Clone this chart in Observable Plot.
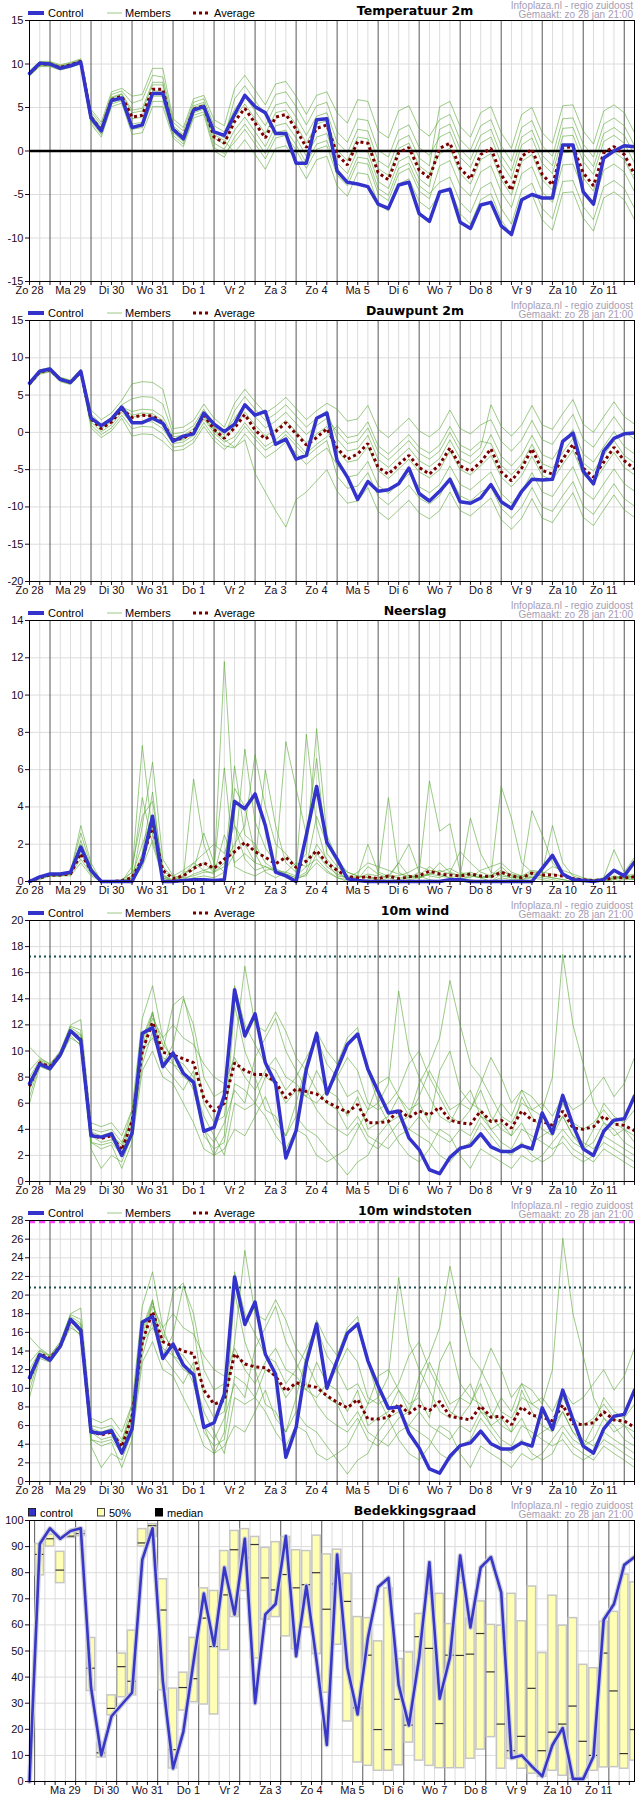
<!DOCTYPE html>
<html><head><meta charset="utf-8">
<script src="https://cdn.jsdelivr.net/npm/d3@7"></script>
<script src="https://cdn.jsdelivr.net/npm/@observablehq/plot@0.6"></script>
<style>
body{margin:0;background:#fff;font-family:"Liberation Sans",Arial,sans-serif;}
.panel{position:relative;width:635px;height:300px;overflow:hidden;}
.panel svg{display:block;}
.hdr{position:absolute;left:0;top:0;width:635px;height:20px;pointer-events:none;}
.lg{position:absolute;top:7px;font-size:11px;line-height:12px;color:#000;white-space:nowrap;}
.sw{position:absolute;top:7px;}
.ttl{position:absolute;top:3px;left:415px;transform:translateX(-50%);font:bold 12.5px "DejaVu Sans",sans-serif;color:#000;white-space:nowrap;}
.src{position:absolute;top:1px;right:2px;text-align:right;font-size:10px;line-height:9px;color:#a59db3;white-space:nowrap;}
</style></head><body><div id="chart"></div>
<script>
// ---------- shared axis data (hours since Sun 28 Jan 00:00) ----------
const dayNames = ["Zo 28","Ma 29","Di 30","Wo 31","Do 1","Vr 2","Za 3","Zo 4","Ma 5","Di 6","Wo 7","Do 8","Vr 9","Za 10","Zo 11","Ma 12"];
const sourceLines = ["Infoplaza.nl - regio zuidoost","Gemaakt: zo 28 jan 21:00"];

// ---------- Temperatuur 2m ----------
const tempControl = [8.9,10.1,10.0,9.5,9.8,10.2,3.8,2.3,5.8,6.1,2.7,3.0,6.6,6.6,2.5,1.4,4.7,5.1,2.2,1.8,4.2,6.4,5.1,4.4,2.0,2.0,-1.4,-1.4,3.6,3.7,-2.3,-3.6,-3.8,-4.1,-6.1,-6.6,-3.9,-3.6,-7.2,-8.1,-4.7,-4.4,-8.2,-8.9,-6.2,-5.9,-8.6,-9.6,-5.6,-5.0,-5.4,-5.4,0.7,0.7,-4.7,-6.1,-0.8,0.0,0.6,0.5];
const tempAverage = [8.9,10.0,10.0,9.6,9.9,10.3,3.9,2.4,5.9,6.3,3.9,4.1,7.1,7.1,2.5,1.5,4.8,5.2,1.6,0.9,3.4,4.9,3.2,1.5,3.9,4.2,2.5,0.4,2.6,3.0,-0.4,-1.6,1.1,0.9,-2.5,-3.3,-0.2,0.4,-2.2,-3.1,0.3,0.9,-2.0,-3.2,-0.4,0.3,-2.7,-4.5,-0.6,0.2,-2.7,-3.9,0.4,0.5,-2.5,-4.0,-0.2,0.5,-0.4,-2.7];
const tempMembers = [
[9.2,10.3,10.3,9.9,10.2,10.6,4.8,3.3,6.8,7.2,6.3,6.5,9.5,9.5,3.7,2.7,6.0,6.4,3.6,2.9,7.2,8.7,7.0,5.3,7.7,8.0,6.3,4.2,6.4,6.8,4.4,3.2,5.9,5.7,2.3,1.5,4.6,5.2,2.6,1.7,3.6,4.2,1.3,0.1,2.9,3.6,0.6,-1.2,2.7,3.5,0.6,-0.6,3.7,3.8,0.8,-0.7,3.1,3.8,2.9,0.6],
[9.0,10.1,10.2,9.7,10.0,10.4,4.5,3.0,6.5,6.9,5.5,5.9,8.7,8.5,3.3,2.3,5.6,6.0,2.9,2.2,4.8,6.3,4.6,2.9,5.3,5.6,3.9,1.8,4.0,4.4,1.0,-0.2,2.5,2.3,-1.1,-1.9,1.2,1.8,-0.8,-1.7,5.1,5.7,2.8,1.6,4.4,5.1,2.1,0.3,4.2,5.0,2.1,0.9,5.2,5.3,2.3,0.8,4.6,5.3,4.4,2.1],
[8.9,10.0,10.1,9.7,9.9,10.4,4.2,2.7,6.2,6.6,4.7,4.9,7.9,7.9,2.9,1.9,5.2,5.6,2.2,1.5,6.0,7.5,5.8,4.1,6.5,6.8,5.1,3.0,5.2,5.6,2.2,1.0,3.7,3.5,0.1,-0.7,2.4,3.0,0.4,-0.5,1.6,2.2,-0.7,-1.9,0.9,1.6,-1.4,-3.2,0.7,1.5,-1.4,-2.6,1.7,1.8,-1.2,-2.7,1.1,1.8,0.9,-1.4],
[8.8,9.9,9.9,9.5,9.8,10.2,3.8,2.3,5.8,6.2,3.7,3.9,6.9,6.9,2.4,1.4,4.7,5.1,1.5,0.8,3.9,5.4,3.7,2.0,4.4,4.7,3.0,0.9,3.1,3.5,0.1,-1.1,1.6,1.4,-2.0,-2.8,0.3,0.9,-1.7,-2.6,-0.3,0.3,-2.6,-3.8,-1.0,-0.3,-3.3,-5.1,-1.2,-0.4,-3.3,-4.5,-0.2,-0.1,-3.1,-4.6,-0.8,-0.1,-1.0,-3.3],
[8.8,9.9,9.8,9.5,9.8,10.2,3.6,2.1,5.6,6.0,3.1,3.3,6.3,6.3,2.1,1.1,4.4,4.8,0.9,0.2,2.4,3.9,2.2,0.5,2.9,3.2,1.5,-0.6,1.6,2.0,-1.4,-2.6,0.1,-0.1,-3.5,-4.3,-1.2,-0.6,-3.2,-4.1,2.5,3.1,0.2,-1.0,1.8,2.5,-0.5,-2.3,1.6,2.4,-0.5,-1.7,2.6,2.7,-0.3,-1.8,2.0,2.7,1.8,-0.5],
[8.7,9.8,9.8,9.4,9.7,10.1,3.4,1.9,5.4,5.8,2.5,2.7,5.7,5.7,1.8,0.8,4.1,4.5,0.4,-0.3,1.0,2.5,0.8,-0.9,1.5,1.8,0.1,-2.0,0.2,0.6,-2.8,-4.0,-1.3,-1.5,-4.9,-5.7,-2.6,-2.0,-4.6,-5.5,-1.7,-1.1,-4.0,-5.2,-2.4,-1.7,-4.7,-6.5,-2.6,-1.8,-4.7,-5.9,-1.6,-1.5,-4.5,-6.0,-2.2,-1.5,-2.4,-4.7],
[8.6,9.7,9.7,9.3,9.6,10.0,3.1,1.6,5.1,5.5,1.9,2.1,5.1,5.1,1.5,0.5,3.8,4.2,0.0,-0.7,1.6,3.1,1.4,-0.3,2.1,2.4,0.7,-1.4,0.8,1.2,-2.2,-3.4,-0.7,-0.9,-4.3,-5.1,-2.0,-1.4,-4.0,-4.9,-3.6,-3.0,-5.9,-7.1,-4.3,-3.6,-6.6,-8.4,-4.5,-3.7,-6.6,-7.8,-3.5,-3.4,-6.4,-7.9,-4.1,-3.4,-4.3,-6.6],
[9.1,10.2,10.2,9.8,10.1,10.5,4.1,2.6,6.1,6.5,4.4,4.6,7.6,7.6,2.7,1.7,5.0,5.4,1.9,1.2,-0.2,1.3,-0.4,-2.1,0.3,0.6,-1.1,-3.2,-1.0,-0.6,-4.0,-5.2,-2.5,-2.7,-6.1,-6.9,-3.8,-3.2,-5.8,-6.7,-4.9,-4.3,-7.2,-8.4,-5.6,-4.9,-7.9,-9.7,-5.8,-5.0,-7.9,-9.1,-4.8,-4.7,-7.7,-9.2,-5.4,-4.7,-5.6,-7.9]
];

// ---------- Dauwpunt 2m ----------
const dewControl = [6.6,8.2,8.5,7.1,6.7,8.2,1.9,0.9,1.8,3.4,1.3,1.3,1.9,1.2,-1.2,-0.5,-0.2,2.6,1.1,0.1,1.1,3.7,2.3,2.8,-1.6,-0.9,-3.6,-3.1,1.9,2.6,-3.8,-6.0,-9.0,-6.6,-7.9,-7.7,-6.9,-4.8,-8.2,-9.2,-7.9,-6.3,-9.3,-9.5,-8.8,-7.0,-9.3,-10.2,-7.9,-6.3,-6.4,-6.3,-1.2,-0.1,-5.2,-6.9,-2.5,-0.8,-0.2,-0.1];
const dewAverage = [6.5,8.1,8.4,7.1,6.7,8.1,1.8,0.5,1.4,3.1,2.0,2.3,2.2,1.3,-1.0,-0.8,0.1,2.3,0.4,-0.8,0.6,2.4,0.3,-0.9,0.1,1.3,-0.2,-1.7,-0.7,0.5,-2.1,-3.6,-2.9,-1.5,-4.7,-5.6,-4.3,-3.1,-4.7,-5.6,-4.3,-2.1,-4.5,-5.2,-4.0,-2.2,-5.3,-6.5,-4.8,-2.2,-5.1,-5.6,-3.6,-1.6,-4.8,-6.0,-4.0,-2.0,-3.8,-4.9];
const dewMembers = [
[6.8,8.4,8.7,7.4,7.0,8.4,3.0,1.7,2.6,4.3,6.5,6.8,6.7,5.8,0.5,0.7,1.6,3.8,1.9,0.7,3.9,5.8,4.1,2.6,3.5,4.7,3.2,1.7,2.9,3.9,3.1,1.5,1.8,3.6,0.4,-0.7,0.6,1.9,0.2,-0.6,0.5,3.0,0.5,-0.2,1.0,1.7,-1.2,-2.5,-1.0,1.6,-1.0,-1.6,0.5,2.4,-0.9,-2.0,0.1,2.1,0.1,-0.9],
[6.7,8.3,8.6,7.3,6.9,8.3,2.4,1.1,2.0,3.7,4.5,4.8,4.7,3.8,-0.2,0.0,0.9,3.1,1.2,0.0,1.9,3.8,2.1,0.6,1.5,2.7,1.2,-0.3,0.9,1.9,0.1,-1.5,-1.2,0.6,-2.6,-3.7,-2.4,-1.1,-2.8,-3.6,-2.5,0.0,-2.5,-3.2,-2.0,3.7,0.8,-0.5,1.0,3.6,1.0,0.4,2.5,4.4,1.1,0.0,2.1,4.1,2.1,1.1],
[6.6,8.2,8.5,7.2,6.8,8.2,2.1,0.8,1.7,3.4,2.8,3.1,3.0,2.1,-0.6,-0.4,0.5,2.7,0.8,-0.4,2.9,4.8,3.1,1.6,2.5,3.7,2.2,0.7,1.9,2.9,-0.9,-2.5,-2.2,-0.4,-3.6,-4.7,-3.4,-2.1,-3.8,-4.6,-3.5,-1.0,-3.5,-4.2,-3.0,-0.3,-3.2,-4.5,-3.0,-0.4,-3.0,-3.6,-1.5,0.4,-2.9,-4.0,-1.9,0.1,-1.9,-2.9],
[6.5,8.1,8.4,7.1,6.7,8.1,1.8,0.5,1.4,3.1,2.0,2.3,2.2,1.3,-1.0,-0.8,0.1,2.3,0.4,-0.8,0.8,2.7,1.0,-0.5,0.4,1.6,0.1,-1.4,-0.2,0.8,-2.4,-4.0,-3.7,-1.9,-5.1,-6.2,-4.9,-3.6,-5.3,-6.1,-5.0,-2.5,-5.0,-5.7,-4.5,-3.1,-6.0,-7.3,-5.8,-3.2,-5.8,-6.4,-4.3,-2.4,-5.7,-6.8,-4.7,-2.7,-4.7,-5.7],
[6.4,8.0,8.3,7.0,6.6,8.0,1.4,0.1,1.0,2.7,1.2,1.5,1.4,0.5,-1.5,-1.3,-0.4,1.8,-0.1,-1.3,-0.6,1.3,-0.4,-1.9,-1.0,0.2,-1.3,-2.8,-1.6,-0.6,0.9,-0.7,-0.4,1.4,-1.8,-2.9,-1.6,-0.3,-2.0,-2.8,-1.7,0.8,-1.7,-2.4,-1.2,-1.5,-4.4,-5.7,-4.2,-1.6,-4.2,-4.8,-2.7,-0.8,-4.1,-5.2,-3.1,-1.1,-3.1,-4.1],
[6.3,7.9,8.2,6.9,6.5,7.9,1.0,-0.3,0.6,2.3,0.5,0.8,0.7,-0.2,-2.0,-1.8,-0.9,1.3,-0.6,-1.8,-2.1,-0.2,-1.9,-3.4,-2.5,-1.3,-2.8,-4.3,-3.1,-2.1,-4.4,-6.0,-5.7,-3.9,-7.1,-8.2,-6.9,-5.6,-7.3,-8.1,-7.0,-4.5,-7.0,-7.7,-6.5,-5.3,-8.2,-9.5,-8.0,-5.4,-8.0,-8.6,-6.5,-4.6,-7.9,-9.0,-6.9,-4.9,-6.9,-7.9],
[6.2,7.8,8.1,6.8,6.4,7.8,0.6,-0.7,0.2,1.9,-0.5,-0.2,-0.3,-1.2,-2.5,-2.3,-1.4,0.8,-1.1,-2.3,-1.1,0.8,-0.9,-2.4,-1.5,-0.3,-1.8,-3.3,-2.1,-1.1,-5.9,-7.5,-7.2,-5.4,-8.6,-9.7,-8.4,-7.1,-8.8,-9.6,-8.5,-6.0,-8.5,-9.2,-8.0,-7.3,-10.2,-11.5,-10.0,-7.4,-10.0,-10.6,-8.5,-6.6,-9.9,-11.0,-8.9,-6.9,-8.9,-9.9],
[6.7,8.3,8.6,7.3,6.9,8.3,2.1,0.8,1.7,3.4,2.3,2.6,2.5,1.6,-1.2,-1.0,-0.1,2.1,0.2,-1.0,-2.0,-1.0,-5.5,-8.0,-10.5,-12.7,-9.0,-8.0,-6.5,-5.0,-7.9,-9.5,-9.2,-7.4,-10.6,-11.7,-10.4,-9.1,-10.8,-11.6,-10.5,-8.0,-10.5,-11.2,-10.0,-8.8,-11.7,-13.0,-11.5,-8.9,-11.5,-12.1,-10.0,-8.1,-11.4,-12.5,-10.4,-8.4,-10.4,-11.4]
];

// ---------- Neerslag ----------
const rainControl = [0,0.25,0.4,0.4,0.5,1.85,0.6,0,0,0,0,1.1,3.5,0,0,0.05,0.1,0.1,0.05,0.1,4.3,3.9,4.7,3.0,0.5,0.3,0,2.5,5.1,2.1,1.2,0.15,0.05,0,0,0,0,0,0,0,0,0.1,0.1,0,0,0,0,0,0,0,0.7,1.4,0.4,0.1,0.05,0,0.1,0.6,0.3,1.05];
const rainAverage = [0,0.2,0.35,0.35,0.4,1.5,0.6,0,0,0.05,0.2,1.2,3.0,0.6,0.15,0.3,0.7,1.0,0.7,1.2,1.6,2.1,1.6,1.3,0.95,1.3,0.75,1.1,1.65,1.0,0.6,0.25,0.2,0.25,0.15,0.3,0.15,0.25,0.3,0.55,0.4,0.35,0.3,0.4,0.3,0.25,0.5,0.3,0.2,0.45,0.35,0.35,0.3,0.15,0.1,0.05,0.1,0.2,0.2,0.25];
const rainMembers = [
[0,0.3,0.4,0.4,0.5,3.0,1.0,0,0,0,0.5,7.3,2.5,0.2,0,0.3,0.8,1.0,0.5,11.8,3.0,1.2,0.6,0.8,0.5,0.3,0.1,0.4,1.0,0.5,0.2,0,0,0.1,0,0.2,0,0.1,0.2,0.4,0.3,0.2,0.1,0.3,0.2,0,0.4,0.2,0.1,0.3,0.2,0.1,0,0,0,0,0,0.1,0.2,0.1],
[0,0.2,0.3,0.3,0.4,2.2,0.7,0,0,0,0,3.0,6.4,1.2,0.3,0.2,5.5,2.0,0.5,0.8,6.2,2.5,2.0,1.0,0.6,0.4,0.2,0.5,2.0,1.2,0.6,0.1,0.3,2.0,0.5,0.3,0.2,0.2,0.5,5.4,2.7,3.1,0.5,0.3,0.2,0.3,0.6,0.3,0.2,0.5,0.3,0.2,0.1,0,0,0,0.1,0.3,0.2,0.3],
[0,0.2,0.4,0.4,0.4,1.5,0.5,0,0,0,0.2,1.5,4.8,0.4,0,0.5,0.6,2.6,1.0,0.5,1.5,7.1,3.2,1.8,1.0,7.5,5.0,2.5,6.6,1.5,0.8,0.3,0.2,0.4,0.3,4.5,0.5,0.2,0.3,0.8,0.4,0.2,0.3,3.4,1.5,0.5,0.3,0.2,0.3,3.8,2.5,1.0,0.4,0.2,0,0,0.1,0.2,0.3,0.4],
[0,0.2,0.3,0.3,0.4,1.2,0.4,0,0,0,0.3,2.0,3.5,0.3,0.1,0.2,0.3,0.5,0.5,1.0,2.0,3.0,6.8,4.0,2.0,1.5,0.8,1.5,8.2,2.5,1.2,0.5,0.3,0.2,0.1,0.3,1.0,2.0,0.5,0.3,0.2,0.5,1.6,1.0,0.5,0.3,5.1,3.4,1.0,0.5,0.5,3.0,1.0,0.3,0.1,0.1,0.2,1.7,0.5,1.3],
[0,0.2,0.3,0.3,0.5,1.8,0.6,0,0,0.1,0.5,4.5,2.0,0.2,0,0.1,0.4,0.6,0.4,2.5,1.0,1.5,1.0,6.0,3.0,1.0,0.5,7.9,3.0,1.0,0.3,0.2,0.5,1.0,0.8,0.6,0.4,0.3,0.2,0.4,0.6,0.4,0.3,0.2,0.6,0.8,1.0,0.5,0.3,0.2,0.4,0.8,0.6,0.4,0.2,0.1,0,0.1,0.4,0.2],
[0,0.1,0.3,0.3,0.3,1.0,0.3,0,0,0,0,0.8,2.2,0.3,0,0,0.2,0.3,0.2,0.5,5.0,4.0,1.5,0.5,0.2,0.5,1.0,0.8,1.2,0.6,0.2,0.1,0.2,0.3,0.1,0,0.1,0.2,0.3,0.1,0,0.1,0.2,0.1,0,0,0.2,0.1,0.1,0.2,0.1,0,0,0,0,0,0,0,0.1,0.1],
[0,0.2,0.4,0.4,0.5,2.6,0.8,0,0,0,0.8,3.5,4.3,0.8,0.2,0.3,1.0,1.5,2.0,1.5,3.0,2.0,1.0,0.8,0.6,0.5,0.3,0.8,3.5,2.0,1.0,0.5,0.3,0.2,0.2,0.3,0.3,0.5,0.8,0.6,0.5,0.7,0.4,0.5,0.3,0.2,0.5,0.4,0.3,0.6,0.5,0.4,0.3,0.2,0.1,0.1,0.1,0.2,0.2,0.3],
[0,0.3,0.3,0.4,0.4,2.0,0.6,0,0,0,0.2,1.0,3.0,0.5,0.3,0.6,1.0,0.6,0.8,6.1,0.8,0.5,0.3,0.6,0.7,0.4,0.2,0.3,1.5,0.8,0.4,0.2,0.1,0.8,0.4,0.2,1.0,0.3,0.2,0.4,1.0,0.5,0.3,0.4,0.2,0.3,0.8,0.3,0.2,0.4,0.3,0.2,0.1,0,0,0,0,0.2,0.2,0.2]
];

// ---------- 10m wind ----------
const windControl = [7.5,9.0,8.65,9.7,11.55,10.8,3.5,3.4,3.65,2.0,3.7,11.35,11.8,8.8,9.85,8.3,7.6,3.85,4.15,6.6,14.7,11.15,12.85,9.1,7.5,1.8,3.9,8.6,11.35,6.7,8.6,10.5,11.3,8.6,6.9,5.25,5.4,3.35,2.45,0.9,0.6,1.85,2.55,2.75,3.65,2.65,2.3,2.3,2.75,2.5,5.25,3.7,6.6,4.3,2.5,2.0,3.85,4.7,4.8,6.55];
const windAverage = [7.3,9.1,8.8,9.7,11.5,10.9,3.6,3.3,3.5,2.4,4.6,10.0,12.2,9.9,9.7,9.4,9.1,6.4,5.4,6.0,9.1,8.5,8.2,8.2,7.6,6.4,7.1,6.9,6.7,6.1,5.7,5.3,5.9,4.5,4.5,4.6,5.5,4.9,5.4,5.1,5.7,4.7,4.5,4.4,5.4,4.6,4.7,4.1,5.4,4.7,4.6,4.3,5.4,4.1,4.0,4.2,5.0,4.4,4.3,3.9];
const windMembers = [
[6.0,8.8,8.5,9.5,11.0,10.5,3.0,2.8,3.0,2.0,4.0,9.5,13.0,9.0,10.5,14.0,12.0,8.0,6.5,7.0,15.0,12.0,10.5,9.0,8.5,7.0,8.0,9.5,11.0,9.0,8.0,6.5,7.0,5.5,6.0,7.5,14.6,10.0,8.0,6.5,5.0,4.5,6.0,5.5,7.0,5.0,4.0,3.5,4.5,3.0,3.5,4.0,5.0,3.5,3.0,2.5,3.5,3.0,2.5,2.0],
[10.3,9.5,9.0,10.0,12.0,12.4,4.5,4.2,4.5,3.5,5.5,12.5,15.0,11.0,9.0,8.5,7.0,4.0,3.0,4.5,7.0,6.0,9.5,11.0,12.5,10.0,8.5,7.0,5.5,4.5,4.0,3.5,4.5,3.0,2.5,3.5,4.5,5.0,7.5,9.0,11.0,15.4,12.0,9.0,8.0,6.5,5.0,4.5,6.0,5.5,5.0,4.0,6.0,4.5,4.0,4.5,5.5,4.5,4.0,3.5],
[7.5,9.2,8.7,9.6,11.5,10.8,2.5,1.0,2.0,1.5,3.5,9.0,11.5,10.0,13.5,14.2,11.0,6.0,4.5,5.0,10.0,16.5,12.0,11.5,13.0,11.5,9.5,8.5,7.0,6.0,5.5,4.0,5.0,3.5,3.0,2.5,3.5,4.0,5.0,4.0,3.5,3.0,4.0,3.5,5.0,4.5,6.0,5.0,7.0,6.5,5.5,8.0,17.4,12.0,9.0,6.0,4.5,4.0,3.0,2.5],
[7.0,9.0,8.8,9.7,11.5,11.0,3.8,3.5,3.8,2.5,5.0,10.0,11.0,9.5,9.0,8.0,7.5,5.0,3.5,2.0,6.0,5.5,6.0,8.0,7.5,6.0,7.0,6.5,8.5,7.0,6.5,5.0,6.5,4.0,4.5,5.0,6.5,5.5,6.0,4.5,8.5,10.0,7.0,6.0,5.5,4.0,4.5,3.5,6.5,5.0,4.0,3.5,5.0,3.5,2.5,3.0,4.5,3.5,4.0,3.0],
[8.0,9.3,8.9,9.8,11.8,11.3,3.5,3.0,3.2,2.2,4.5,11.0,13.0,9.0,8.0,7.0,8.5,4.0,2.0,3.5,13.5,10.0,8.0,5.5,5.0,3.5,6.0,9.0,11.5,10.0,9.0,11.0,11.8,8.5,6.0,4.5,5.0,4.0,3.5,3.0,2.0,1.5,2.5,3.0,4.5,3.5,2.5,2.0,3.0,2.0,1.5,2.0,3.5,2.5,2.0,1.5,2.5,2.0,1.5,1.0],
[6.5,9.0,8.6,9.5,11.2,10.4,3.0,2.5,2.8,1.0,3.0,8.5,10.0,8.0,7.5,6.0,4.5,2.5,2.0,2.5,4.0,3.5,5.0,6.5,4.5,3.5,5.0,4.0,3.5,2.5,1.5,0.5,1.5,2.0,3.5,4.5,3.0,2.0,1.5,2.5,4.0,3.5,2.0,1.0,2.5,2.0,1.5,1.0,2.0,1.5,2.0,3.0,4.0,3.0,2.5,4.0,6.0,5.0,4.5,5.5],
[7.5,9.2,8.8,9.8,11.6,11.2,3.6,3.4,3.6,2.8,5.5,10.5,12.5,11.0,12.0,11.0,10.5,9.0,8.0,7.5,9.5,8.0,7.0,8.5,9.5,8.0,7.5,6.5,6.0,7.0,8.0,9.5,8.5,6.0,5.5,6.0,7.0,9.0,10.0,8.0,6.5,5.0,4.5,5.5,7.5,9.5,8.0,6.0,7.0,5.5,6.0,5.0,6.5,5.5,6.0,7.0,8.0,6.5,7.5,9.5],
[8.5,9.4,9.0,9.9,11.9,11.6,4.0,3.8,4.0,3.0,4.8,10.8,12.8,10.5,9.5,9.0,8.0,3.5,2.5,3.0,7.5,7.0,6.0,5.0,3.5,2.5,4.0,3.5,2.0,1.5,2.0,2.5,4.0,5.5,7.5,8.0,6.5,5.0,6.5,8.5,7.0,5.5,6.0,7.0,5.0,4.0,3.0,2.5,4.0,3.5,3.0,2.5,3.0,2.0,1.5,2.0,3.0,2.5,2.0,1.5]
];
const windThreshold = 17.25;

// ---------- 10m windstoten ----------
const gustControl = [11.15,13.6,13.0,14.5,17.4,16.2,5.3,5.15,5.45,3.05,5.65,17.1,17.7,13.2,14.75,12.5,11.45,5.8,6.3,9.35,21.95,16.85,19.25,13.65,11.5,2.6,5.8,12.75,16.9,10.0,13.0,15.9,16.9,12.95,10.25,7.85,8.0,5.2,3.6,1.35,0.9,2.7,3.85,4.15,5.4,4.05,3.5,3.5,4.15,3.8,7.9,5.6,9.8,6.65,3.8,3.05,5.65,7.0,7.2,9.8];
const gustAverage = [11.0,13.7,13.2,14.5,17.3,16.3,5.4,5.0,5.3,3.7,7.0,15.0,18.2,15.0,14.5,14.0,13.7,9.8,8.3,8.7,13.7,12.6,12.3,12.2,11.3,9.7,10.6,10.3,10.1,9.2,8.5,7.9,8.8,6.7,6.7,6.9,8.3,7.3,8.1,7.6,8.6,7.0,6.8,6.6,8.1,6.9,7.0,6.1,8.0,7.1,6.9,6.5,8.2,6.2,6.1,6.3,7.5,6.6,6.5,5.8];
const gustMembers = [
[9.0,13.2,12.8,14.3,16.5,15.8,4.5,4.2,4.5,3.0,6.0,14.3,19.5,13.5,15.8,21.0,18.0,12.0,9.8,10.5,22.5,18.0,15.8,13.5,12.8,10.5,12.0,14.3,16.5,13.5,12.0,9.8,10.5,8.3,9.0,11.3,21.9,15.0,12.0,9.8,7.5,6.8,9.0,8.3,10.5,7.5,6.0,5.3,6.8,4.5,5.3,6.0,7.5,5.3,4.5,3.8,5.3,4.5,3.8,3.0],
[15.5,14.3,13.5,15.0,18.0,18.6,6.8,6.3,6.8,5.3,8.3,18.8,22.5,16.5,13.5,12.8,10.5,6.0,4.5,6.8,10.5,9.0,14.3,16.5,18.8,15.0,12.8,10.5,8.3,6.8,6.0,5.3,6.8,4.5,3.8,5.3,6.8,7.5,11.3,13.5,16.5,23.1,18.0,13.5,12.0,9.8,7.5,6.8,9.0,8.3,7.5,6.0,9.0,6.8,6.0,6.8,8.3,6.8,6.0,5.3],
[11.3,13.8,13.1,14.4,17.3,16.2,3.8,1.5,3.0,2.3,5.3,13.5,17.3,15.0,20.3,21.3,16.5,9.0,6.8,7.5,15.0,24.8,18.0,17.3,19.5,17.3,14.3,12.8,10.5,9.0,8.3,6.0,7.5,5.3,4.5,3.8,5.3,6.0,7.5,6.0,5.3,4.5,6.0,5.3,7.5,6.8,9.0,7.5,10.5,9.8,8.3,12.0,26.1,18.0,13.5,9.0,6.8,6.0,4.5,3.8],
[10.5,13.5,13.2,14.6,17.3,16.5,5.7,5.3,5.7,3.8,7.5,15.0,16.5,14.3,13.5,12.0,11.3,7.5,5.3,3.0,9.0,8.3,9.0,12.0,11.3,9.0,10.5,9.8,12.8,10.5,9.8,7.5,9.8,6.0,6.8,7.5,9.8,8.3,9.0,6.8,12.8,15.0,10.5,9.0,8.3,6.0,6.8,5.3,9.8,7.5,6.0,5.3,7.5,5.3,3.8,4.5,6.8,5.3,6.0,4.5],
[12.0,14.0,13.4,14.7,17.7,17.0,5.3,4.5,4.8,3.3,6.8,16.5,19.5,13.5,12.0,10.5,12.8,6.0,3.0,5.3,20.3,15.0,12.0,8.3,7.5,5.3,9.0,13.5,17.3,15.0,13.5,16.5,17.7,12.8,9.0,6.8,7.5,6.0,5.3,4.5,3.0,2.3,3.8,4.5,6.8,5.3,3.8,3.0,4.5,3.0,2.3,3.0,5.3,3.8,3.0,2.3,3.8,3.0,2.3,1.5],
[9.8,13.5,12.9,14.3,16.8,15.6,4.5,3.8,4.2,1.5,4.5,12.8,15.0,12.0,11.3,9.0,6.8,3.8,3.0,3.8,6.0,5.3,7.5,9.8,6.8,5.3,7.5,6.0,5.3,3.8,2.3,0.8,2.3,3.0,5.3,6.8,4.5,3.0,2.3,3.8,6.0,5.3,3.0,1.5,3.8,3.0,2.3,1.5,3.0,2.3,3.0,4.5,6.0,4.5,3.8,6.0,9.0,7.5,6.8,8.3],
[11.3,13.8,13.2,14.7,17.4,16.8,5.4,5.1,5.4,4.2,8.3,15.8,18.8,16.5,18.0,16.5,15.8,13.5,12.0,11.3,14.3,12.0,10.5,12.8,14.3,12.0,11.3,9.8,9.0,10.5,12.0,14.3,12.8,9.0,8.3,9.0,10.5,13.5,15.0,12.0,9.8,7.5,6.8,8.3,11.3,14.3,12.0,9.0,10.5,8.3,9.0,7.5,9.8,8.3,9.0,10.5,12.0,9.8,11.3,14.3],
[12.8,14.1,13.5,14.9,17.9,17.4,6.0,5.7,6.0,4.5,7.2,16.2,19.2,15.8,14.3,13.5,12.0,5.3,3.8,4.5,11.3,10.5,9.0,7.5,5.3,3.8,6.0,5.3,3.0,2.3,3.0,3.8,6.0,8.3,11.3,12.0,9.8,7.5,9.8,12.8,10.5,8.3,9.0,10.5,7.5,6.0,4.5,3.8,6.0,5.3,4.5,3.8,4.5,3.0,2.3,3.0,4.5,3.8,3.0,2.3]
];
const gustThreshold = 20.8;
const gustWarning = 27.85;

// ---------- Bedekkingsgraad ----------
const cloudControl = [0,91,97,93,96,97,36,10,25,29.5,34,85,97,38.5,5,19,46,72,52,82,64,93,30,64,68,94,48,75,46,14,87,43.6,25.7,55,74.5,78,37,21.5,47.5,84,31.7,47.5,86.6,59,82,86,72.5,9,10,5.8,2,14,20.5,1,1,9.6,62,68,83,86];
const cloudHigh = [91,94.6,88,95.4,96,55,14.8,33,49,57.8,96.7,98.6,77.5,35.6,41.7,55,74,73,88.3,96,96.7,93.7,89.5,91.7,93.7,88.6,88.3,94.2,87,88.8,79.6,63,62.6,53.7,74,46.9,49.4,64.2,71.9,71.9,60.3,76,62.3,69,60,59.7,71.9,61.4,74.7,49.2,71.2,59.7,62.6,44.7,43.4,61.2,65,79.3,76.3];
const cloudLow = [79,90,76,93.3,94,34.7,9.2,25.4,32.3,33,90,93.7,35,5,27.2,30.4,29.5,25.7,50.3,63,73,47.2,62,63,55.6,50.7,59,48.8,34,52.4,23,7.3,6,4.1,4.1,6.2,14.9,8,6,5.1,5.1,5.1,8.7,12.2,17,4.9,8.7,4.9,3,1.8,4.1,2.2,1,1.3,4.1,5.4,5.5,4.9,8];
const cloudMedian = [87,93,81,94,95,43.4,11,28,44,38.4,91.4,98,65.7,12.2,36,39.4,62.6,51.7,71.5,88.8,85.7,90.8,78,73.4,79.3,74.2,75.4,80,66,75.7,69,28.2,48.4,19.9,12.2,31.5,21.6,55.5,51,22.2,48.4,48.3,48.8,56.7,42,22,11.8,17.3,35.7,11.8,18.9,22,28.9,15.4,10,49.2,34.7,10.7,19.9];

// ---------- styling ----------
const C_CONTROL = "#3333cc", C_MEMBER = "#5aa836", C_AVG = "#7a0000";
const C_GRID = "#dcdcdc", C_DAY = "#585858";
const W = 635, H = 300;

function labelMap(offset){ return new Map(dayNames.map((n,k)=>[offset+24*k, n])); }

function header(title, legendKind){
  const h = document.createElement("div");
  h.className = "hdr";
  let lg;
  if (legendKind === "lines") {
    lg = `
    <svg class="sw" style="left:28px" width="17" height="12"><line x1="0" x2="16" y1="6" y2="6" stroke="${C_CONTROL}" stroke-width="4"/></svg>
    <span class="lg" style="left:48px">Control</span>
    <svg class="sw" style="left:107px" width="16" height="12"><line x1="0" x2="15" y1="6" y2="6" stroke="${C_MEMBER}" stroke-opacity="0.6" stroke-width="1"/></svg>
    <span class="lg" style="left:125px">Members</span>
    <svg class="sw" style="left:193px" width="16" height="12"><line x1="0" x2="15" y1="6" y2="6" stroke="${C_AVG}" stroke-width="3" stroke-dasharray="3,3"/></svg>
    <span class="lg" style="left:214px">Average</span>`;
  } else {
    lg = `
    <svg class="sw" style="left:28px;top:8px" width="8" height="9"><rect x="0.5" y="0.5" width="7" height="7.5" fill="${C_CONTROL}" stroke="#222" stroke-width="1"/></svg>
    <span class="lg" style="left:40px">control</span>
    <svg class="sw" style="left:97px;top:8px" width="8" height="9"><rect x="0.5" y="0.5" width="7" height="7.5" fill="#ffffb4" stroke="#444" stroke-width="1"/></svg>
    <span class="lg" style="left:109px">50%</span>
    <svg class="sw" style="left:155px;top:8px" width="8" height="9"><rect x="0.5" y="0.5" width="7" height="7.5" fill="#000" stroke="#000" stroke-width="1"/></svg>
    <span class="lg" style="left:167px">median</span>`;
  }
  h.innerHTML = lg + `<div class="ttl">${title}</div><div class="src">${sourceLines.join("<br>")}</div>`;
  return h;
}

function baseMarks(t0, t1, yTicks){
  const six = d3.range(Math.ceil(t0/6)*6, t1+0.001, 6);
  const days = six.filter(h => h % 24 === 0);
  const light = six.filter(h => h % 24 !== 0);
  return {six, marks: [
    Plot.ruleY(yTicks, {stroke: C_GRID, strokeWidth: 1}),
    Plot.ruleX(light, {stroke: C_GRID, strokeWidth: 1}),
    Plot.ruleX(days, {stroke: C_DAY, strokeWidth: 1})
  ]};
}

function axisMarks(six, t0, t1, labelOffset, yTicks){
  const lm = labelMap(labelOffset);
  const labelTicks = [...lm.keys()].filter(h => h >= t0 && h <= t1);
  return [
    Plot.axisY({ticks: yTicks, tickSize: 4, tickPadding: 2, tickFormat: d => String(d), label: null}),
    Plot.axisX({ticks: six, tickSize: 4, tickFormat: () => "", label: null}),
    Plot.axisX({ticks: labelTicks, tickSize: 0, tickPadding: 5, tickFormat: d => lm.get(d), label: null}),
    Plot.frame({stroke: "#000", strokeWidth: 1})
  ];
}

function linePanel({title, control, average, members, yMin, yMax, yStep, extras = []}){
  const t0 = 12, t1 = 12 + 6*(control.length-1);
  const yTicks = d3.range(yMin, yMax + 0.001, yStep);
  const rows = a => a.map((v,i) => ({t: t0 + 6*i, v}));
  const memberRows = members.flatMap((m,k) => m.map((v,i) => ({t: t0 + 6*i, v, k})));
  const {six, marks} = baseMarks(t0, t1, yTicks);
  const svg = Plot.plot({
    width: W, height: H, marginLeft: 29, marginRight: 1, marginTop: 20, marginBottom: 19,
    style: {fontFamily: '"Liberation Sans", Arial, sans-serif', fontSize: "11px", color: "#200a20", background: "#fff"},
    x: {domain: [t0, t1]},
    y: {domain: [yMin, yMax]},
    marks: [
      ...marks,
      Plot.line(memberRows, {x: "t", y: "v", z: "k", stroke: C_MEMBER, strokeOpacity: 0.6, strokeWidth: 1}),
      ...extras,
      Plot.line(rows(average), {x: "t", y: "v", stroke: C_AVG, strokeWidth: 3, strokeDasharray: "3,3", strokeLinecap: "butt", strokeLinejoin: "miter"}),
      Plot.line(rows(control), {x: "t", y: "v", stroke: C_CONTROL, strokeWidth: 3.5}),
      ...axisMarks(six, t0, t1, 12, yTicks)
    ]
  });
  const p = document.createElement("div");
  p.className = "panel";
  p.append(svg, header(title, "lines"));
  return p;
}

function cloudPanel(){
  const t0 = 21, t1 = 21 + 6*(cloudControl.length-1);
  const yTicks = d3.range(0, 100.001, 10);
  const rows = cloudControl.map((v,i) => ({t: t0 + 6*i, v}));
  const bars = cloudHigh.map((hi,i) => ({t: t0 + 6*(i+1), hi, lo: cloudLow[i], med: cloudMedian[i]}));
  const {six, marks} = baseMarks(t0, t1, yTicks);
  const svg = Plot.plot({
    width: W, height: H, marginLeft: 29, marginRight: 1, marginTop: 20, marginBottom: 19,
    style: {fontFamily: '"Liberation Sans", Arial, sans-serif', fontSize: "11px", color: "#200a20", background: "#fff"},
    x: {domain: [t0, t1]},
    y: {domain: [0, 100]},
    marks: [
      ...marks,
      Plot.rect(bars, {x1: d => d.t - 2.45, x2: d => d.t + 2.45, y1: "lo", y2: "hi", fill: "#ffffb4", stroke: "#c6c6c6", strokeWidth: 1.5}),
      Plot.ruleY(bars, {y: "med", x1: d => d.t - 2.45, x2: d => d.t + 2.45, stroke: "#333", strokeWidth: 1.2}),
      Plot.line(rows, {x: "t", y: "v", stroke: "#cfcfd8", strokeWidth: 5}),
      Plot.line(rows, {x: "t", y: "v", stroke: "#3838c8", strokeWidth: 2.6}),
      ...axisMarks(six, t0, t1, 18, yTicks)
    ]
  });
  const p = document.createElement("div");
  p.className = "panel";
  p.append(svg, header("Bedekkingsgraad", "boxes"));
  return p;
}

const root = document.getElementById("chart");
root.append(
  linePanel({title: "Temperatuur 2m", control: tempControl, average: tempAverage, members: tempMembers, yMin: -15, yMax: 15, yStep: 5,
    extras: [Plot.ruleY([0], {stroke: "#000", strokeWidth: 2.5})]}),
  linePanel({title: "Dauwpunt 2m", control: dewControl, average: dewAverage, members: dewMembers, yMin: -20, yMax: 15, yStep: 5}),
  linePanel({title: "Neerslag", control: rainControl, average: rainAverage, members: rainMembers, yMin: 0, yMax: 14, yStep: 2}),
  linePanel({title: "10m wind", control: windControl, average: windAverage, members: windMembers, yMin: 0, yMax: 20, yStep: 2,
    extras: [Plot.ruleY([windThreshold], {stroke: "#1d5050", strokeWidth: 2, strokeDasharray: "2,3"})]}),
  linePanel({title: "10m windstoten", control: gustControl, average: gustAverage, members: gustMembers, yMin: 0, yMax: 28, yStep: 2,
    extras: [Plot.ruleY([gustThreshold], {stroke: "#1d5050", strokeWidth: 2, strokeDasharray: "2,3"}),
             Plot.ruleY([gustWarning], {stroke: "#ff40ff", strokeWidth: 2.5, strokeDasharray: "6,4"})]}),
  cloudPanel()
);
</script></body></html>
